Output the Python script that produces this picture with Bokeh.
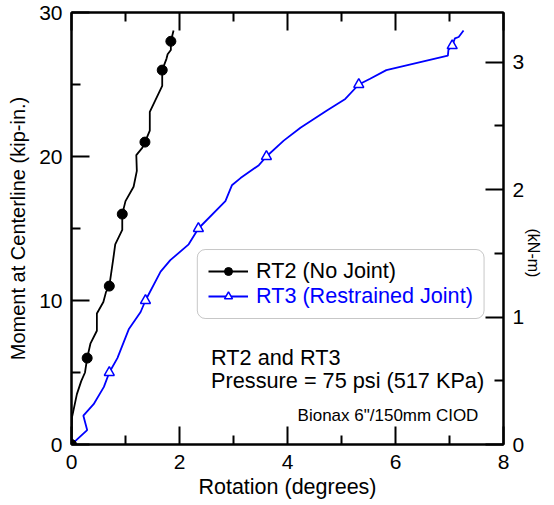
import math
from bokeh.plotting import figure
from bokeh.models import (Range1d, LinearAxis, FixedTicker, Legend, LegendItem,
                          Label, BoxAnnotation)
from bokeh.embed import file_html
from bokeh.resources import INLINE

FONT = "Liberation Sans"
BLUE = "#0000ff"

# RT2 (No Joint) - rotation (degrees) vs moment (kip-in.)
rt2_rotation = [0, 0.01, 0.10, 0.18, 0.25, 0.29, 0.35, 0.47, 0.47, 0.59, 0.64, 0.70,
                0.77, 0.81, 0.94, 0.94, 1.00, 1.15, 1.21, 1.20, 1.31, 1.36, 1.45,
                1.45, 1.68, 1.68, 1.76, 1.78, 1.84, 1.84, 1.89]
rt2_moment = [0, 1.9, 3.5, 4.4, 5.0, 6.0, 7.0, 7.9, 9.1, 9.9, 10.6, 11.0,
              12.8, 13.9, 14.9, 16.0, 16.9, 17.9, 19.0, 20.1, 20.6, 21.0, 21.8,
              23.1, 24.9, 26.0, 26.8, 27.1, 27.4, 28.0, 28.75]
rt2_marker_rotation = [0, 0.29, 0.70, 0.94, 1.36, 1.68, 1.84]
rt2_marker_moment = [0, 6, 11, 16, 21, 26, 28]

# RT3 (Restrained Joint)
rt3_rotation = [0, 0.29, 0.22, 0.41, 0.60, 0.70, 0.85, 1.06, 1.28, 1.37, 1.65, 1.83,
                2.17, 2.35, 2.85, 2.97, 3.13, 3.47, 3.61, 3.93, 4.24, 4.73, 5.07,
                5.32, 5.53, 5.83, 6.97, 6.98, 7.05, 7.10, 7.17, 7.26]
rt3_moment = [0, 1.0, 2.0, 2.8, 4.0, 5.0, 6.0, 8.0, 9.2, 10.0, 12.0, 12.8,
              13.9, 15.0, 16.9, 18.0, 18.5, 19.4, 20.0, 21.1, 22.0, 23.2, 24.0,
              25.0, 25.4, 26.0, 27.0, 27.4, 27.7, 28.2, 28.3, 28.75]
rt3_marker_rotation = [0, 0.70, 1.37, 2.35, 3.61, 5.32, 7.05]
rt3_marker_moment = [0, 5, 10, 15, 20, 25, 27.7]

x_ticks = [0, 2, 4, 6, 8]
x_minor = [1, 3, 5, 7]
y_ticks = [0, 10, 20, 30]
y_minor = [5, 15, 25]
knm_ticks = [0, 1, 2, 3]
knm_minor = [0.5, 1.5, 2.5]
KIPIN_TO_KNM = 0.1129848

p = figure(width=554, height=505, output_backend="svg", toolbar_location=None,
           x_range=Range1d(0, 8), y_range=Range1d(0, 30),
           min_border_left=71, min_border_right=51, min_border_top=12,
           min_border_bottom=61)
p.grid.visible = False
p.outline_line_color = "black"
p.outline_line_width = 2
p.background_fill_color = "white"
p.border_fill_color = "white"

p.extra_y_ranges = {"knm": Range1d(0, 30 * KIPIN_TO_KNM)}


def style(ax, size="21px"):
    ax.major_tick_in = 18
    ax.major_tick_out = 0
    ax.minor_tick_in = 9
    ax.minor_tick_out = 0
    ax.major_tick_line_width = 2
    ax.minor_tick_line_width = 2
    ax.axis_line_width = 2
    ax.axis_line_color = "black"
    ax.major_tick_line_color = "black"
    ax.minor_tick_line_color = "black"
    ax.major_label_text_font = FONT
    ax.major_label_text_font_size = size
    ax.major_label_text_color = "black"
    ax.major_label_standoff = 9
    ax.axis_label_text_font = FONT
    ax.axis_label_text_font_style = "normal"
    ax.axis_label_text_font_size = "20px"
    ax.axis_label_text_color = "black"


xa = p.xaxis[0]
xa.ticker = FixedTicker(ticks=x_ticks, minor_ticks=x_minor)
xa.axis_label = "Rotation (degrees)"
style(xa)
xa.axis_label_text_font_size = "21.5px"
xa.major_label_standoff = 10
xa.axis_label_standoff = 3

ya = p.yaxis[0]
ya.ticker = FixedTicker(ticks=y_ticks, minor_ticks=y_minor)
ya.axis_label = "Moment at Centerline (kip-in.)"
style(ya)
ya.axis_label_standoff = 7

ra = LinearAxis(y_range_name="knm", axis_label="(kN-m)",
                ticker=FixedTicker(ticks=knm_ticks, minor_ticks=knm_minor))
style(ra)
ra.axis_label_text_font_size = "16px"
ra.axis_label_standoff = 6
ra.axis_label_orientation = -math.pi / 2
p.add_layout(ra, "right")

ta = LinearAxis(ticker=FixedTicker(ticks=x_ticks, minor_ticks=x_minor))
style(ta)
ta.major_label_overrides = {t: "" for t in x_ticks}
ta.major_label_text_font_size = "1px"
ta.major_label_standoff = 0
p.add_layout(ta, "above")

# RT3 drawn first so the RT2 marker at the origin sits on top
r3l = p.line(rt3_rotation, rt3_moment, line_color=BLUE, line_width=1.8)
r3m = p.scatter(rt3_marker_rotation, rt3_marker_moment, marker="triangle", size=10,
                fill_color="white", line_color=BLUE, line_width=1.5)
r2l = p.line(rt2_rotation, rt2_moment, line_color="black", line_width=1.8)
r2m = p.scatter(rt2_marker_rotation, rt2_marker_moment, marker="circle", size=10,
                fill_color="black", line_color="black")

box = BoxAnnotation(left=2.33, right=7.64, bottom=8.75, top=13.54,
                    fill_color="white", fill_alpha=1.0, line_color="#444444",
                    line_width=1, border_radius=8)
p.add_layout(box)


def make_legend(item, loc, color):
    return Legend(items=[item], location=loc, glyph_width=40, glyph_height=20,
                  label_standoff=8, padding=0, margin=0, spacing=0,
                  border_line_alpha=0, background_fill_alpha=0,
                  label_text_font=FONT, label_text_font_size="21.6px",
                  label_text_color=color, label_height=20)


leg1 = make_legend(LegendItem(label="RT2 (No Joint)", renderers=[r2l, r2m]),
                   (137, 160), "black")
leg2 = make_legend(LegendItem(label="RT3 (Restrained Joint)", renderers=[r3l, r3m]),
                   (137, 135), BLUE)
p.add_layout(leg1)
p.add_layout(leg2)

p.add_layout(Label(x=2.585, y=6.06, text="RT2 and RT3", text_baseline="middle",
                   text_font=FONT, text_font_size="21.7px", text_color="black"))
p.add_layout(Label(x=2.585, y=4.44, text="Pressure = 75 psi (517 KPa)",
                   text_baseline="middle", text_font=FONT, text_font_size="21.7px",
                   text_color="black"))
p.add_layout(Label(x=7.535, y=2.01, text='Bionax 6"/150mm CIOD', text_align="right",
                   text_baseline="middle", text_font=FONT, text_font_size="17px",
                   text_color="black"))

open("out.html", "w").write(file_html(p, INLINE))
